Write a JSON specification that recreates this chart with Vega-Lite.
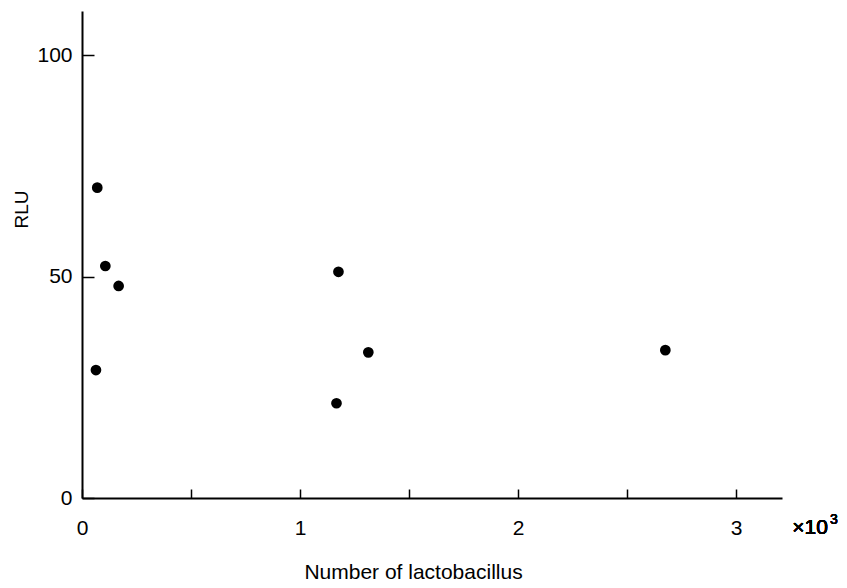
{
  "$schema": "https://vega.github.io/schema/vega-lite/v6.json",
  "width": 700,
  "height": 487,
  "autosize": {"type": "none"},
  "padding": {"left": 82, "top": 11, "right": 65, "bottom": 90},
  "background": "white",
  "config": {
    "view": {"stroke": null},
    "font": "Liberation Sans",
    "axis": {
      "grid": false,
      "domainColor": "black",
      "domainWidth": 2,
      "tickColor": "black",
      "tickWidth": 1.5,
      "labelColor": "black",
      "titleColor": "black",
      "labelFont": "Liberation Sans",
      "titleFont": "Liberation Sans",
      "labelFontSize": 21,
      "titleFontSize": 21,
      "titleFontWeight": "normal"
    }
  },
  "data": {
    "values": [
      {"count": 0.07, "rlu": 70.1},
      {"count": 0.107, "rlu": 52.4},
      {"count": 0.168, "rlu": 47.9},
      {"count": 0.064, "rlu": 28.9},
      {"count": 1.176, "rlu": 51.1},
      {"count": 1.167, "rlu": 21.4},
      {"count": 1.313, "rlu": 32.9},
      {"count": 2.675, "rlu": 33.4}
    ]
  },
  "layer": [
    {
      "mark": {"type": "circle", "size": 115, "color": "black", "opacity": 1, "clip": false},
      "encoding": {
        "x": {
          "field": "count",
          "type": "quantitative",
          "scale": {"domain": [0, 3.21], "nice": false, "zero": false},
          "axis": {
            "title": "Number of lactobacillus",
            "values": [0, 0.5, 1, 1.5, 2, 2.5, 3],
            "labelExpr": "datum.value % 1 === 0 ? format(datum.value, 'd') : ''",
            "tickSize": -9,
            "labelBaseline": "middle",
            "labelPadding": 39,
            "labelFlush": false,
            "titlePadding": 23,
            "titleX": 331
          }
        },
        "y": {
          "field": "rlu",
          "type": "quantitative",
          "scale": {"domain": [0, 110], "nice": false},
          "axis": {
            "title": "RLU",
            "titleFontSize": 19,
            "values": [0, 50, 100],
            "tickSize": -12,
            "labelPadding": 22,
            "labelFlush": false,
            "titleX": -61,
            "titleY": 198,
            "titleAlign": "center",
            "titleBaseline": "middle"
          }
        }
      }
    },
    {
      "mark": {"type": "text", "align": "left", "baseline": "middle", "fontSize": 21, "fontWeight": "normal", "font": "Liberation Sans", "color": "black", "opacity": 1, "dy": 30, "clip": false},
      "encoding": {
        "x": {"datum": 3.257, "type": "quantitative"},
        "y": {"datum": 0, "type": "quantitative"},
        "text": {"value": "×10"}
      }
    },
    {
      "mark": {"type": "text", "align": "left", "baseline": "middle", "fontSize": 14, "fontWeight": "normal", "font": "Liberation Sans", "color": "black", "opacity": 1, "dy": 22, "clip": false},
      "encoding": {
        "x": {"datum": 3.43, "type": "quantitative"},
        "y": {"datum": 0, "type": "quantitative"},
        "text": {"value": "3"}
      }
    }
  ]
}
